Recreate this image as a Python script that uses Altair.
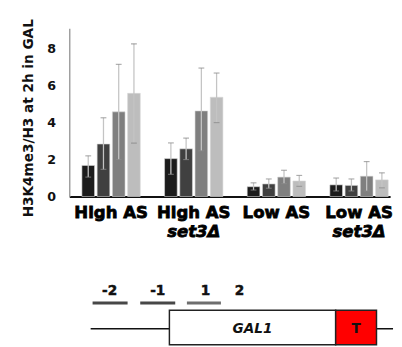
import altair as alt
import pandas as pd

# ---- bar chart data ----
groups = ["High AS", "High AS set3Δ", "Low AS", "Low AS set3Δ"]
group_line1 = ["High AS", "High AS", "Low AS", "Low AS"]
group_line2 = ["", "set3Δ", "", "set3Δ"]
positions = ["-2", "-1", "1", "2"]
bar_colors = ["#1c1c1c", "#404040", "#7f7f7f", "#bdbdbd"]

means = {
    "-2": [1.68, 2.05, 0.53, 0.63],
    "-1": [2.84, 2.58, 0.68, 0.60],
    "1": [4.58, 4.63, 1.05, 1.10],
    "2": [5.58, 5.37, 0.84, 0.90],
}
err_low = {
    "-2": [1.05, 1.20, 0.35, 0.30],
    "-1": [1.47, 2.00, 0.45, 0.30],
    "1": [2.00, 2.47, 0.70, 0.30],
    "2": [2.89, 4.00, 0.55, 0.47],
}
err_high = {
    "-2": [2.20, 2.90, 0.74, 1.00],
    "-1": [4.26, 3.16, 0.95, 0.95],
    "1": [7.15, 6.95, 1.42, 1.89],
    "2": [8.26, 6.68, 1.14, 1.28],
}
y_ticks = [0, 2, 4, 6, 8]

# ---- gene diagram data (schematic units) ----
seg_labels = ["-2", "-1", "1", "2"]
seg_label_x = [41.5, 91, 140, 175]
seg_start = [24, 73, 121]
seg_end = [60, 109, 156]
seg_colors = ["#474747", "#474747", "#6e6e6e"]
line_x = [22, 333]
box_names = ["GAL1", "T"]
box_x1 = [103, 274]
box_x2 = [274, 316]
box_fill = ["#ffffff", "#ff0000"]

rows = []
for p in positions:
    for i, g in enumerate(groups):
        rows.append({"group": g, "pos": p, "mean": means[p][i],
                     "lo": err_low[p][i], "hi": err_high[p][i]})
df = pd.DataFrame(rows)
lab = pd.DataFrame({"group": groups, "l1": group_line1, "l2": group_line2})

FONT = "DejaVu Sans"
W, H = 330, 173

xscale = alt.Scale(domain=groups, paddingInner=0.294, paddingOuter=0.088, align=0.87)
xoff = alt.XOffset("pos:N", scale=alt.Scale(domain=positions, paddingInner=0.17, paddingOuter=0))
yscale = alt.Scale(domain=[0, 9.1], nice=False)

base = alt.Chart(df)
bars = base.mark_bar(stroke="#d8d8d8", strokeWidth=0.6).encode(
    x=alt.X("group:N", scale=xscale,
            axis=alt.Axis(labels=False, ticks=False, title=None, domainColor="#111111",
                          domainWidth=2)),
    xOffset=xoff,
    y=alt.Y("mean:Q", scale=yscale,
            axis=alt.Axis(values=y_ticks, ticks=False, grid=False, labelPadding=14,
                          labelFont=FONT, labelFontWeight="bold", labelFontSize=13,
                          labelColor="#111111", domainColor="#a0a0a0", domainWidth=1.5,
                          title="H3K4me3/H3 at 2h in GAL", titleFont=FONT,
                          titleFontSize=14, titleFontWeight="bold", titleColor="#111111",
                          titlePadding=12, titleY=92)),
    color=alt.Color("pos:N", scale=alt.Scale(domain=positions, range=bar_colors), legend=None),
)
rules = base.mark_rule(color="#c4c4c4", strokeWidth=1.3).encode(
    x=alt.X("group:N", scale=xscale), xOffset=xoff,
    y=alt.Y("lo:Q", scale=yscale), y2="hi:Q")
cap_hi = base.mark_tick(color="#8a8a8a", size=6, thickness=1.2, orient="horizontal").encode(
    x=alt.X("group:N", scale=xscale), xOffset=xoff, y=alt.Y("hi:Q", scale=yscale))
cap_lo = base.mark_tick(color="#8a8a8a", size=6, thickness=1.2, orient="horizontal").encode(
    x=alt.X("group:N", scale=xscale), xOffset=xoff, y=alt.Y("lo:Q", scale=yscale))

t1 = alt.Chart(lab).mark_text(font=FONT, fontWeight="bold", fontSize=17, dy=22,
                              baseline="alphabetic", color="#000000",
                              stroke="#000000", strokeWidth=0.8).encode(
    x=alt.X("group:N", scale=xscale), y=alt.value(H), text="l1:N")
t2 = alt.Chart(lab).mark_text(font=FONT, fontWeight="bold", fontStyle="italic", fontSize=17,
                              dy=42, baseline="alphabetic", color="#000000",
                              stroke="#000000", strokeWidth=0.8).encode(
    x=alt.X("group:N", scale=xscale), y=alt.value(H), text="l2:N")

bar_chart = alt.layer(bars, rules, cap_hi, cap_lo, t1, t2).properties(width=W, height=H)

# ---- diagram ----
DW, DH = 333, 64
dx = alt.Scale(domain=[0, DW], nice=False, zero=False)
dy = alt.Scale(domain=[0, DH], nice=False, zero=False)

seg_df = pd.DataFrame({"x1": seg_start, "x2": seg_end, "c": seg_colors, "y": [43.5] * 3})
seg_lab_df = pd.DataFrame({"t": seg_labels, "x": seg_label_x, "y": [52] * 4})
line_df = pd.DataFrame({"x1": [line_x[0]], "x2": [line_x[1]], "y": [17]})
box_df = pd.DataFrame({"name": box_names, "x1": box_x1, "x2": box_x2, "fill": box_fill,
                       "y1": [0.5] * 2, "y2": [36] * 2,
                       "xc": [(a + b) / 2 for a, b in zip(box_x1, box_x2)], "yc": [17] * 2})
gal_df = box_df.iloc[[0]]
t_df = box_df.iloc[[1]]

dline = alt.Chart(line_df).mark_rule(color="#111111", strokeWidth=1.5).encode(
    x=alt.X("x1:Q", scale=dx, axis=None), x2="x2:Q", y=alt.Y("y:Q", scale=dy, axis=None))
dsegs = alt.Chart(seg_df).mark_rule(strokeWidth=3).encode(
    x=alt.X("x1:Q", scale=dx, axis=None), x2="x2:Q", y=alt.Y("y:Q", scale=dy, axis=None),
    color=alt.Color("c:N", scale=None))
dlabs = alt.Chart(seg_lab_df).mark_text(font=FONT, fontWeight="bold", fontSize=14,
                                        baseline="alphabetic", color="#111111",
                                        stroke="#111111", strokeWidth=0.5).encode(
    x=alt.X("x:Q", scale=dx, axis=None), y=alt.Y("y:Q", scale=dy, axis=None), text="t:N")
dbox = alt.Chart(box_df).mark_rect(stroke="#222222", strokeWidth=1.5).encode(
    x=alt.X("x1:Q", scale=dx, axis=None), x2="x2:Q",
    y=alt.Y("y1:Q", scale=dy, axis=None), y2="y2:Q",
    fill=alt.Fill("fill:N", scale=None))
dgal = alt.Chart(gal_df).mark_text(font=FONT, fontWeight="bold", fontStyle="italic",
                                   fontSize=14, baseline="middle", color="#111111").encode(
    x=alt.X("xc:Q", scale=dx, axis=None), y=alt.Y("yc:Q", scale=dy, axis=None), text="name:N")
dt = alt.Chart(t_df).mark_text(font=FONT, fontWeight="bold",
                               fontSize=14, baseline="middle", color="#111111").encode(
    x=alt.X("xc:Q", scale=dx, axis=None), y=alt.Y("yc:Q", scale=dy, axis=None), text="name:N")

diagram = alt.layer(dline, dsegs, dlabs, dbox, dgal, dt).properties(width=DW, height=DH)

chart = alt.vconcat(bar_chart, diagram, spacing=44).properties(
    padding={"left": 13, "top": 6, "right": 0, "bottom": 0}
).configure_view(stroke=None)

chart.save("out.html", embed_options={"renderer": "svg", "actions": False})
